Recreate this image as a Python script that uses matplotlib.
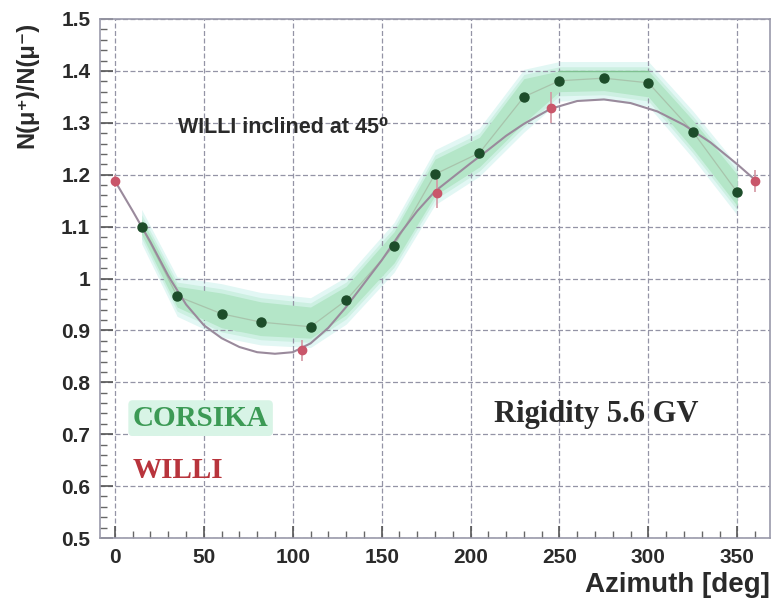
import numpy as np
import matplotlib
matplotlib.use('Agg')
import matplotlib.pyplot as plt
from matplotlib.ticker import MultipleLocator

# CORSIKA simulation points (azimuth deg, ratio)
corsika_az = [15, 35, 60, 82, 110, 130, 157, 180, 205, 230, 250, 275, 300, 325, 350]
corsika_val = [1.100, 0.966, 0.932, 0.916, 0.907, 0.958, 1.063, 1.201, 1.242, 1.350, 1.381, 1.386, 1.377, 1.283, 1.166]
# shaded band around the simulation
band_low = [1.085, 0.945, 0.905, 0.890, 0.885, 0.930, 1.030, 1.160, 1.215, 1.300, 1.360, 1.362, 1.350, 1.250, 1.140]
band_high = [1.115, 0.985, 0.972, 0.955, 0.945, 0.985, 1.090, 1.230, 1.272, 1.385, 1.400, 1.400, 1.400, 1.305, 1.200]

# WILLI measurement points with errors
willi_az = [0, 105, 181, 245, 360]
willi_val = [1.188, 0.862, 1.165, 1.329, 1.188]
willi_err = [0.012, 0.020, 0.030, 0.030, 0.022]

# fit curve
fit_az = [0, 10, 15, 20, 30, 40, 50, 60, 70, 80, 90, 100, 110, 120, 130, 140, 150, 160, 170, 180,
          190, 200, 210, 220, 230, 245, 260, 275, 290, 305, 320, 335, 350, 360]
fit_val = [1.188, 1.130, 1.100, 1.070, 1.005, 0.950, 0.910, 0.885, 0.868, 0.858, 0.855, 0.858, 0.875,
           0.905, 0.945, 0.990, 1.035, 1.085, 1.130, 1.168, 1.195, 1.222, 1.248, 1.275, 1.298, 1.327,
           1.342, 1.345, 1.338, 1.322, 1.296, 1.262, 1.220, 1.190]

fig = plt.figure(figsize=(7.73, 6.02), dpi=100)
ax = fig.add_axes([100/773, 1-538/602, 670/773, 519/602])

# blurred looking band: pale halo plus core
lo = np.array(band_low)
hi = np.array(band_high)
ax.fill_between(corsika_az, lo - 0.018, hi + 0.018, color='#e2f7f4', lw=0, zorder=1)
ax.fill_between(corsika_az, lo - 0.008, hi + 0.008, color='#cdf0e2', lw=0, zorder=1)
ax.fill_between(corsika_az, lo, hi, color='#b4e6c8', lw=0, zorder=2)
ax.plot(corsika_az[10:13], hi[10:13], color='#7fc090', lw=1.0, zorder=2)
ax.plot(corsika_az, corsika_val, color='#a8c4ac', lw=0.9, zorder=3)

ax.plot(fit_az, fit_val, color='#9a8a9c', lw=1.5, zorder=4)

ax.errorbar(willi_az, willi_val, yerr=willi_err, fmt='o', color='#c9566a', ecolor='#d497a3',
            markersize=6, elinewidth=1.2, capsize=0, zorder=5)
ax.plot(corsika_az, corsika_val, 'o', color='#1d4d2a', markersize=6.5, zorder=6)

ax.set_xlim(-8.4, 368.4)
ax.set_ylim(0.5, 1.5)
ax.xaxis.set_major_locator(MultipleLocator(50))
ax.xaxis.set_minor_locator(MultipleLocator(10))
ax.yaxis.set_minor_locator(MultipleLocator(0.02))
ax.set_yticks([0.5, 0.6, 0.7, 0.8, 0.9, 1.0, 1.1, 1.2, 1.3, 1.4, 1.5])
ax.set_yticklabels(['0.5', '0.6', '0.7', '0.8', '0.9', '1', '1.1', '1.2', '1.3', '1.4', '1.5'])

ax.grid(True, which='major', color='#9494a6', linestyle=(0, (4, 2)), linewidth=0.9)
ax.tick_params(which='major', direction='in', length=9, width=1.2, color='#555555',
               labelsize=15, labelcolor='#2a2a2a', pad=7)
ax.tick_params(which='minor', direction='in', length=5, width=1.0, color='#666666')
for lab in ax.get_xticklabels() + ax.get_yticklabels():
    lab.set_fontweight('bold')
    lab.set_family('Liberation Sans')
for sp in ax.spines.values():
    sp.set_color('#9a9aaa')
    sp.set_linewidth(1.2)

fam = ['Liberation Sans', 'DejaVu Sans']
ax.set_xlabel('Azimuth [deg]', fontsize=20, fontweight='bold', family=fam, color='#2a2a2a')
ax.xaxis.set_label_coords(1.0, -0.065)
ax.xaxis.label.set_horizontalalignment('right')
fig.text(27/773, 1-85/602, 'N(μ⁺)/N(μ⁻)', rotation=90, fontsize=17, fontweight='bold',
         family=fam, color='#2a2a2a', ha='center', va='center')

ax.text(35.4, 1.29, 'WILLI inclined at 45⁰', fontsize=15.5, fontweight='bold', family=fam,
        color='#2a2a2a', va='center')
ax.text(213, 0.737, 'Rigidity 5.6 GV', fontsize=22, fontweight='bold', family='Liberation Serif',
        color='#2a2a2a', va='center')
ax.text(10, 0.731, 'CORSIKA', fontsize=21, fontweight='bold', family='Liberation Serif',
        color='#3c9a55', va='center',
        bbox=dict(boxstyle='round,pad=0.15', fc='#d8f4e6', ec='none'))
ax.text(10, 0.631, 'WILLI', fontsize=21, fontweight='bold', family='Liberation Serif',
        color='#b8343c', va='center')

fig.savefig('out.png', dpi=100, facecolor='white')
